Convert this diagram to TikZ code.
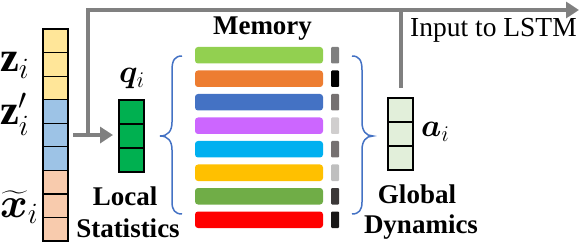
\RequirePackage{fix-cm}
\documentclass[tikz,border=0pt]{standalone}
\usepackage{amsmath,bm}
\usepackage{fontspec}
\setmainfont{Liberation Serif}
\usetikzlibrary{arrows.meta}
\definecolor{cyel}{HTML}{FFE699}
\definecolor{cblu}{HTML}{9DC3E6}
\definecolor{cora}{HTML}{F8CBAD}
\definecolor{cgrn}{HTML}{00B050}
\definecolor{clgr}{HTML}{E2EFDA}
\definecolor{cgray}{HTML}{808080}
\definecolor{cbrace}{HTML}{4472C4}
\definecolor{m1}{HTML}{92D050}
\definecolor{m2}{HTML}{ED7D31}
\definecolor{m3}{HTML}{4472C4}
\definecolor{m4}{HTML}{CC66FF}
\definecolor{m5}{HTML}{00B0F0}
\definecolor{m6}{HTML}{FFC000}
\definecolor{m7}{HTML}{70AD47}
\definecolor{m8}{HTML}{FF0000}
\definecolor{k1}{HTML}{7F7F7F}
\definecolor{k2}{HTML}{000000}
\definecolor{k3}{HTML}{767171}
\definecolor{k4}{HTML}{D0CECE}
\definecolor{k5}{HTML}{767171}
\definecolor{k6}{HTML}{BFBFBF}
\definecolor{k7}{HTML}{3B3838}
\definecolor{k8}{HTML}{181717}
\begin{document}
\begin{tikzpicture}[x=1pt,y=-1pt,
  cell/.style={draw=black, line width=1.2pt, minimum width=25pt, minimum height=23.56pt, inner sep=0pt, outer sep=0pt},
  membar/.style={rounded corners=3pt, minimum width=128pt, minimum height=16.5pt, inner sep=0pt},
  memkey/.style={rounded corners=1pt, minimum width=8pt, minimum height=16.5pt, inner sep=0pt},
  gline/.style={draw=cgray, line width=4pt},
  gtip/.style={-{Triangle[length=13pt,width=16pt]}},
  bracepath/.style={draw=cbrace, line width=1.5pt},
  blbl/.style={font=\fontsize{27}{32}\selectfont\bfseries, inner sep=0pt, anchor=base},
  bigmath/.style={font=\fontsize{42}{44}\selectfont, inner sep=0pt, anchor=base west},
  midmath/.style={font=\fontsize{32}{34}\selectfont, inner sep=0pt, anchor=base west}]
\useasboundingbox (0,0) rectangle (581,243);

% left column
\foreach \k/\c in {1/cyel,2/cyel,3/cyel,4/cblu,5/cblu,6/cblu,7/cora,8/cora,9/cora}
  \node[cell, fill=\c] (L\k) at (55.5, {29+23.56*(\k-0.5)}) {};

\node[bigmath] (zi) at (0,72) {$\mathbf{z}_{i}$};
\node[bigmath] (zpi) at (0,125) {$\mathbf{z}'_{i}$};
\node[bigmath] (xi) at (0,217) {$\widetilde{\bm{x}}_{i}$};

% q column
\foreach \k in {1,2,3}
  \node[cell, fill=cgrn, minimum height=24pt] (Q\k) at (131.5, {100+24*(\k-0.5)}) {};
\node[midmath] (qi) at (119,83) {$\bm{q}_i$};
\node[blbl] (loc1) at (125,205) {Local};
\node[blbl] (loc2) at (128,237) {Statistics};

% memory
\node[blbl] (mem) at (262.5,35) {Memory};
\foreach \k in {1,...,8}{
  \node[membar, fill=m\k] (B\k) at (259, {55.25+23.5*(\k-1)}) {};
  \node[memkey, fill=k\k] (K\k) at (335, {55.25+23.5*(\k-1)}) {};
}

% braces
\draw[bracepath] (182,56) .. controls (175,56) and (172,60) .. (172,70) -- (172,122)
  .. controls (172,131) and (168,136) .. (160,136)
  .. controls (168,136) and (172,141) .. (172,150) -- (172,202)
  .. controls (172,210) and (175,214) .. (182,214);
\draw[bracepath] (352,56) .. controls (359,56) and (362,60) .. (362,70) -- (362,122)
  .. controls (362,131) and (366,136) .. (373,136)
  .. controls (366,136) and (362,141) .. (362,150) -- (362,202)
  .. controls (362,210) and (359,214) .. (352,214);

% a column
\foreach \k in {1,2,3}
  \node[cell, fill=clgr, minimum height=24pt] (A\k) at (400.5, {98+24*(\k-0.5)}) {};
\node[midmath] (ai) at (421,137) {$\bm{a}_i$};
\node[blbl] (glo1) at (417,203) {Global};
\node[blbl] (glo2) at (421,233) {Dynamics};

% gray connectors
\coordinate (jL) at (88,135);
\coordinate (out) at (579,10);
\draw[gline, gtip] ([xshift=5pt]L5.east) -- ([xshift=-6pt]L5.east -| Q2.west);
\draw[gline, gtip] (jL) |- (out);
\draw[gline] ([yshift=10pt]A1.north) -- (A1.north |- out);
\node[font=\fontsize{27.5}{30}\selectfont, inner sep=0pt, anchor=base west] (lstm) at (410,37) {Input to LSTM};
\end{tikzpicture}
\end{document}
